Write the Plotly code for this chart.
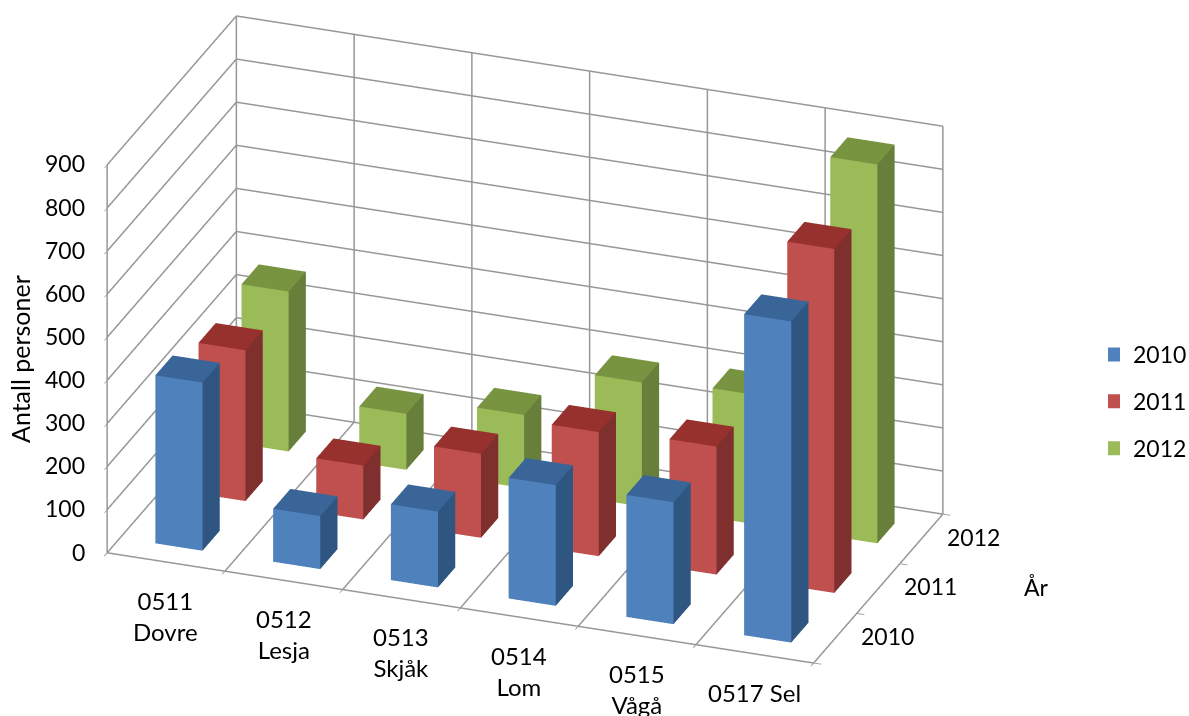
import plotly.graph_objects as go

categories = ["0511<br>Dovre", "0512<br>Lesja", "0513<br>Skjåk", "0514<br>Lom", "0515<br>Vågå", "0517 Sel"]
years = ["2010", "2011", "2012"]
values_2010 = [390, 123, 176, 280, 283, 745]
values_2011 = [350, 125, 195, 288, 297, 798]
values_2012 = [371, 130, 170, 288, 300, 879]
z_ticks = [0, 100, 200, 300, 400, 500, 600, 700, 800, 900]

front_colors = ["#4F81BD", "#C0504D", "#9BBB59"]
top_colors = ["#3A6599", "#96312E", "#789440"]
side_colors = ["#2F5680", "#7F2F2D", "#677F3A"]

BAR_LO, BAR_HI = 0.3, 0.7
GRID = "#979797"
FONT = "Lato"
FS = 23
EYE = 2.0
SCALE = 2.224
N_CAT, N_YEAR = len(categories), len(years)
Z_MAX = z_ticks[-1]

fig = go.Figure()
series = [values_2010, values_2011, values_2012]
for r, vals in enumerate(series):
    xs, ys, zs, ii, jj, kk, fc = [], [], [], [], [], [], []
    for c, v in enumerate(vals):
        b = len(xs)
        x0, x1, y0, y1 = c + BAR_LO, c + BAR_HI, r + BAR_LO, r + BAR_HI
        xs += [x0, x1, x1, x0, x0, x1, x1, x0]
        ys += [y0, y0, y1, y1, y0, y0, y1, y1]
        zs += [0, 0, 0, 0, v, v, v, v]
        quads = [((0, 1, 5), (0, 5, 4), front_colors[r]),
                 ((4, 5, 6), (4, 6, 7), top_colors[r]),
                 ((1, 2, 6), (1, 6, 5), side_colors[r])]
        for t1, t2, col in quads:
            for t in (t1, t2):
                ii.append(b + t[0]); jj.append(b + t[1]); kk.append(b + t[2]); fc.append(col)
    fig.add_trace(go.Mesh3d(x=xs, y=ys, z=zs, i=ii, j=jj, k=kk, facecolor=fc, flatshading=True,
                            lighting=dict(ambient=1, diffuse=0, specular=0, roughness=1, fresnel=0),
                            hoverinfo="skip", showscale=False))
    fig.add_trace(go.Scatter3d(x=[None], y=[None], z=[None], mode="markers", name=years[r],
                               legendgroup=years[r], showlegend=True,
                               marker=dict(symbol="square", size=15, color=front_colors[r],
                                           line=dict(width=3, color=front_colors[r]))))

# walls and floor gridlines at full weight
gx, gy, gz = [], [], []
def seg(a, b):
    gx.extend([a[0], b[0], None]); gy.extend([a[1], b[1], None]); gz.extend([a[2], b[2], None])
for v in z_ticks:
    seg((0, 0, v), (0, N_YEAR, v))
    seg((0, N_YEAR, v), (N_CAT, N_YEAR, v))
for c in range(N_CAT + 1):
    seg((c, N_YEAR, 0), (c, N_YEAR, Z_MAX))
    seg((c, 0, 0), (c, N_YEAR, 0))
seg((0, 0, 0), (0, 0, Z_MAX))
seg((0, 0, 0), (N_CAT, 0, 0))
seg((N_CAT, 0, 0), (N_CAT, N_YEAR, 0))
fig.add_trace(go.Scatter3d(x=gx, y=gy, z=gz, mode="lines", line=dict(color=GRID, width=3),
                           hoverinfo="skip", showlegend=False))

ann = []
for c, lab in enumerate(categories):
    ann.append(dict(x=c + 0.5, y=0, z=0, text=lab, showarrow=False, font=dict(size=24),
                    yshift=-53 if "<br>" in lab else -38))
for r, y in enumerate(years):
    ann.append(dict(x=N_CAT, y=r + 0.5, z=0, text=y, showarrow=False, xshift=52, yshift=3))
for v in z_ticks:
    ann.append(dict(x=0, y=0, z=v, text=str(v), showarrow=False, xanchor="right", xshift=-20, yshift=2))

axis = dict(showbackground=False, showline=True, linecolor=GRID, linewidth=2, ticks="outside", ticklen=8,
            tickcolor=GRID, tickwidth=2, showticklabels=False, title=dict(text=""), gridcolor=GRID, gridwidth=2,
            zeroline=False, showspikes=False)

fig.update_layout(
    width=1189, height=716, paper_bgcolor="white", plot_bgcolor="white",
    margin=dict(l=0, r=0, t=0, b=0, autoexpand=False),
    font=dict(family=FONT, size=FS, color="black"),
    scene=dict(
        domain=dict(x=[0, 0.883], y=[0.052, 0.998]),
        aspectmode="manual", aspectratio=dict(x=1 * SCALE, y=0.497 * SCALE, z=0.569 * SCALE),
        camera=dict(eye=dict(x=0.3127 * EYE, y=-0.8498 * EYE, z=0.424 * EYE), up=dict(x=0, y=0, z=1),
                    center=dict(x=0, y=0, z=0), projection=dict(type="orthographic")),
        xaxis=dict(axis, range=[0, N_CAT], tickvals=list(range(N_CAT + 1))),
        yaxis=dict(axis, range=[0, N_YEAR], tickvals=list(range(N_YEAR + 1)), showgrid=False),
        zaxis=dict(axis, range=[0, Z_MAX], tickvals=z_ticks),
        annotations=ann,
        dragmode=False,
    ),
    legend=dict(x=1108 / 1189, y=1 - 333 / 716, xanchor="left", yanchor="top", tracegroupgap=14,
                itemsizing="constant", itemwidth=30, indentation=-15, bgcolor="rgba(0,0,0,0)"),
    annotations=[
        dict(xref="paper", yref="paper", x=20 / 1189, y=1 - 359 / 716, text="Antall personer", textangle=-90,
             showarrow=False, xanchor="center", yanchor="middle", font=dict(size=25)),
        dict(xref="paper", yref="paper", x=1036 / 1189, y=1 - 587 / 716, text="År", showarrow=False,
             xanchor="center", yanchor="middle"),
    ],
)
fig.write_html("out.html", config=dict(displayModeBar=False),
               post_script="document.body.style.margin='0';")
